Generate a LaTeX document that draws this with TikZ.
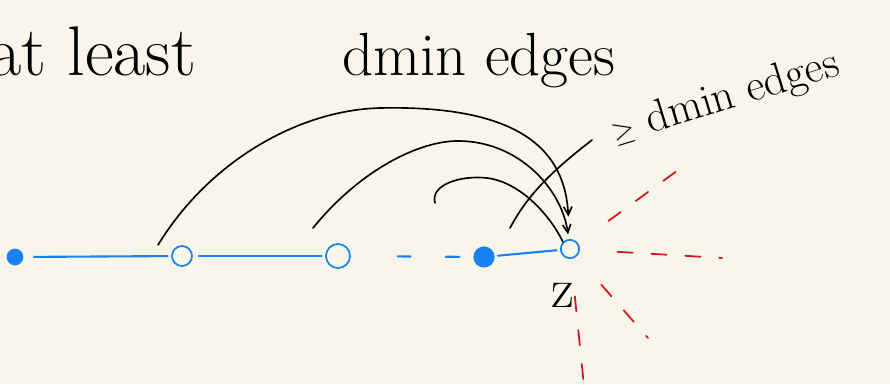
\documentclass[tikz,border=0pt]{standalone}
\usepackage{amsmath,amssymb}
\usepackage{xcolor}
\usepackage{tikz}
\usetikzlibrary{arrows.meta,calc}
\definecolor{paper}{HTML}{F8F6EB}
\definecolor{penblue}{HTML}{1A82F0}
\definecolor{penred}{HTML}{D01818}

\begin{document}
\begin{tikzpicture}[x=0.03cm,y=-0.03cm,line cap=round,
  vtx/.style={circle,draw=penblue,line width=1.5pt,inner sep=0pt,minimum size=#1},
  bedge/.style={penblue,line width=1.8pt},
  bcurve/.style={black,line width=1.4pt},
  rray/.style={penred,line width=1.5pt,dash pattern=on 13pt off 16pt,shorten <=32pt},
  hand/.style={font=\fontsize{#1}{#1}\selectfont}]
\fill[paper] (0,0) rectangle (890,384);
\useasboundingbox (0,0) rectangle (890,384);
% the path
\foreach \n/\xx/\yy/\s/\f in {v1/15/257/0.45cm/penblue, v2/182/256/0.6cm/none, v3/338/256/0.72cm/none, v4/484/257/0.58cm/penblue, z/570/249/0.55cm/none}{
  \node[vtx=\s,fill=\f] (\n) at (\xx,\yy) {};
}
\draw[bedge,shorten <=9pt,shorten >=3pt] (v1) -- (v2);
\draw[bedge,shorten <=5pt,shorten >=3pt] (v2) -- (v3);
\draw[bedge,shorten <=40pt,shorten >=12pt,dash pattern=on 11pt off 30pt on 13pt off 20pt] (v3) -- (v4);
\draw[bedge,shorten <=3pt,shorten >=3pt] (v4) -- (z);
\node[hand=48pt,anchor=base] (zlab) at (563,307) {z};
% edges into z
\coordinate (c1) at (158,245);
\coordinate (c2) at (313,228);
\coordinate (c3) at (435,203);
\coordinate (c4) at (510,228);
\coordinate (c5) at (592,140);
\draw[bcurve,-{Straight Barb[length=7pt,width=7pt]},shorten >=19pt] (c1) .. controls (210,160) and (300,110) .. (380,108) .. controls (520,105) and (565,150) .. (z);
\draw[bcurve,-{Straight Barb[length=7pt,width=7pt]},shorten >=4pt] (c2) .. controls (360,170) and (420,140) .. (460,141) .. controls (520,142) and (562,190) .. (z);
\draw[bcurve] (c3) .. controls (430,185) and (460,175) .. (487,178) .. controls (520,182) and (550,215) .. (z.north west);
\draw[bcurve] (c4) .. controls (530,190) and (560,165) .. (c5);
% rest of the graph
\coordinate (r1) at (685,165);
\coordinate (r2) at (722,258);
\coordinate (r3) at (648,338);
\coordinate (r4) at (584,386);
\foreach \r in {r1,r2,r3,r4}{\draw[rray] (z) -- (\r);}
% labels
\node[hand=60pt,anchor=base west] (head) at (-15,75) {at least};
\node[hand=52pt,anchor=base west] (headb) at (338,75) {dmin edges};
\node[hand=38pt,anchor=base west,rotate=17] (lab) at (612,145) {$\geq$ dmin edges};
\end{tikzpicture}
\end{document}
